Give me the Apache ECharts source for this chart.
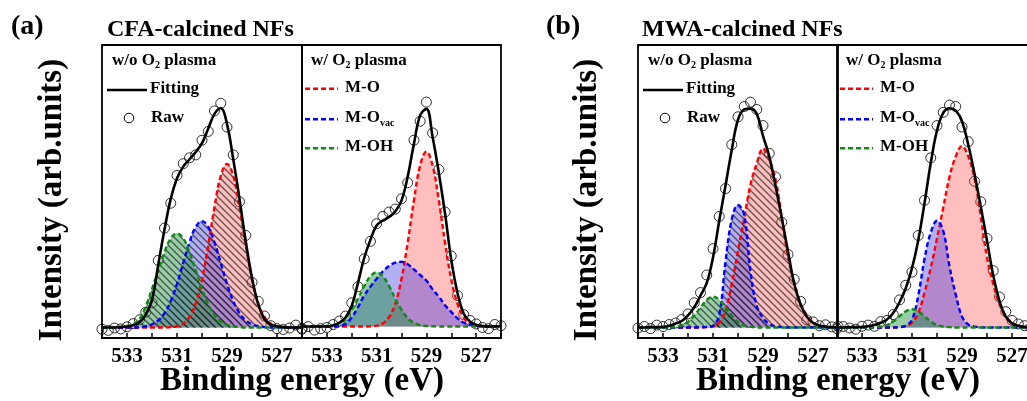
<!DOCTYPE html>
<html>
<head>
<meta charset="utf-8">
<script src="https://cdn.jsdelivr.net/npm/echarts@6/dist/echarts.min.js"></script>
<style>
  html, body { margin: 0; padding: 0; background: #fff; overflow: hidden; }
  #chart { width: 1060px; height: 401px; }
</style>
</head>
<body>
<div id="chart"></div>
<script>
// O 1s spectra: binding energy grid (eV) shared by every curve
const energy = [534, 533.75, 533.5, 533.25, 533, 532.75, 532.5, 532.25, 532, 531.75, 531.5, 531.25,
  531, 530.75, 530.5, 530.25, 530, 529.75, 529.5, 529.25, 529, 528.75, 528.5, 528.25,
  528, 527.75, 527.5, 527.25, 527, 526.75, 526.5, 526.25, 526];
const tickLabels = ['533', '531', '529', '527'];

// CFA-calcined NFs, without O2 plasma
const cfaPlainMO   = [3.6,3.6,3.6,3.6,3.6,3.6,3.6,3.6,3.6,3.6,3.6,3.7,4.0,4.9,7.2,11.9,20.1,31.7,44.7,55.3,59.4,55.3,44.7,31.7,20.1,11.9,7.2,4.9,4.0,3.7,3.6,3.6,3.6];
const cfaPlainOvac = [3.6,3.6,3.6,3.6,3.6,3.6,3.7,4.0,4.7,6.0,8.5,12.6,18.5,25.6,32.7,37.9,39.9,37.9,32.7,25.6,18.5,12.6,8.5,6.0,4.7,4.0,3.7,3.6,3.6,3.6,3.6,3.6,3.6];
const cfaPlainOH   = [3.6,3.6,3.7,3.9,4.1,4.7,6.5,10.8,16.8,23.1,29.3,34.0,35.7,34.0,29.3,23.1,16.8,11.6,7.9,5.7,4.5,4.0,3.7,3.6,3.6,3.6,3.6,3.6,3.6,3.6,3.6,3.6,3.6];
const cfaPlainFit  = [3.6,3.6,3.6,3.7,3.9,4.4,5.4,8.0,13.0,25.0,37.0,47.5,54.5,58.5,61.0,63.5,66.5,71.5,76.5,78.4,73.0,61.0,47.5,33.0,20.5,11.5,6.5,4.6,4.0,3.7,3.6,3.6,3.6];
const cfaPlainRaw  = [3.0,2.6,3.4,3.1,3.8,4.9,6.2,8.8,12.0,26.5,37.5,46.0,55.5,59.5,61.5,62.5,67.5,70.5,77.5,80.1,72.0,62.5,46.5,35.0,19.0,12.5,7.5,4.2,3.2,2.9,3.4,4.4,3.0];

// CFA-calcined NFs, with O2 plasma
const cfaPlasmaMO   = [3.9,3.9,3.9,3.9,3.9,3.9,3.9,3.9,3.9,3.9,3.9,4.0,4.2,5.0,7.1,11.7,20.1,32.6,47.0,58.9,63.6,58.9,47.0,32.6,20.1,11.7,7.1,5.0,4.2,4.0,3.9,3.9,3.9];
const cfaPlasmaOvac = [3.9,3.9,3.9,3.9,3.9,3.9,4.1,4.8,7.0,10.5,14.5,17.5,20.2,22.7,24.6,25.7,26.0,25.2,23.4,21.5,19.6,16.6,14.1,11.2,8.9,6.7,5.2,4.6,4.2,4.0,3.9,3.9,3.9];
const cfaPlasmaOH   = [3.9,3.9,3.9,4.0,4.1,4.4,5.2,6.8,9.6,13.4,17.7,21.1,22.4,21.1,17.7,13.4,9.6,6.8,5.2,4.4,4.1,4.0,3.9,3.9,3.9,3.9,3.9,3.9,3.9,3.9,3.9,3.9,3.9];
const cfaPlasmaFit  = [3.9,3.9,3.9,3.9,3.9,4.3,5.2,7.0,11.0,18.8,27.3,33.5,38.4,40.1,41.3,43.2,46.9,55.1,66.3,76.0,78.2,68.6,56.4,42.5,26.7,15.4,8.3,5.6,4.5,4.1,3.9,4.0,4.1];
const cfaPlasmaRaw  = [3.3,3.9,2.7,3.2,3.6,4.6,5.8,7.5,12.0,17.5,27.0,33.0,39.0,41.5,43.0,44.0,47.5,53.0,67.5,74.0,80.5,70.0,57.5,43.0,28.0,14.5,8.0,6.0,4.8,3.6,3.2,4.6,4.2];

// MWA-calcined NFs, without O2 plasma
const mwaPlainMO   = [3.6,3.6,3.6,3.6,3.6,3.6,3.6,3.6,3.6,3.6,3.6,3.7,4.0,5.2,9.5,18.5,29.9,41.1,52.3,59.6,64.7,60.8,54.1,41.4,27.7,19.2,11.8,7.8,5.2,4.2,3.8,3.6,3.6];
const mwaPlainOvac = [3.6,3.6,3.6,3.6,3.6,3.6,3.6,3.6,3.6,3.6,3.7,3.8,4.2,8.0,26.0,40.5,45.4,42.0,22.5,11.0,6.8,4.8,4.0,3.7,3.6,3.6,3.6,3.6,3.6,3.6,3.6,3.6,3.6];
const mwaPlainOH   = [3.6,3.6,3.6,3.6,3.6,3.6,3.8,4.3,5.5,7.6,10.4,13.0,14.1,13.0,10.4,7.6,5.5,4.3,3.8,3.6,3.6,3.6,3.6,3.6,3.6,3.6,3.6,3.6,3.6,3.6,3.6,3.6,3.6];
const mwaPlainFit  = [3.6,3.6,3.7,3.7,3.8,4.2,4.9,5.8,7.7,10.5,14.5,18.8,27.5,40.0,52.0,64.2,74.5,78.0,78.3,76.5,69.0,62.0,52.0,41.0,29.5,18.5,11.5,7.3,5.2,4.3,3.9,3.7,3.7];
const mwaPlainRaw  = [3.4,3.9,3.2,4.4,3.9,4.6,5.1,6.3,8.2,12.0,15.5,21.5,30.5,41.5,51.0,66.0,75.5,79.0,80.5,78.0,72.5,63.0,55.0,39.5,28.5,20.0,12.5,6.2,5.5,4.2,4.5,3.8,4.0];

// MWA-calcined NFs, with O2 plasma
const mwaPlasmaMO   = [3.6,3.6,3.6,3.6,3.6,3.6,3.6,3.6,3.6,3.6,3.7,4.1,5.2,8.5,15.5,24.0,34.0,44.5,55.0,62.0,65.5,62.0,54.5,41.5,27.5,18.5,11.5,7.5,5.3,4.2,3.8,3.6,3.6];
const mwaPlasmaOvac = [3.6,3.6,3.6,3.6,3.6,3.6,3.6,3.6,3.6,3.6,3.7,4.2,6.2,14.5,27.0,36.0,40.0,36.5,24.5,14.8,7.3,4.6,3.9,3.7,3.6,3.6,3.6,3.6,3.6,3.6,3.6,3.6,3.6];
const mwaPlasmaOH   = [3.6,3.6,3.6,3.6,3.6,3.6,3.7,3.9,4.4,5.6,7.4,9.1,9.8,9.1,7.4,5.6,4.4,3.9,3.7,3.6,3.6,3.6,3.6,3.6,3.6,3.6,3.6,3.6,3.6,3.6,3.6,3.6,3.6];
const mwaPlasmaFit  = [3.6,3.6,3.7,3.7,3.8,4.0,4.4,5.2,6.3,8.5,12.2,17.0,23.8,33.4,46.0,59.7,70.8,76.8,78.4,77.6,74.0,66.0,56.0,44.9,33.2,21.3,12.6,7.3,5.0,4.2,3.8,3.7,3.7];
const mwaPlasmaRaw  = [3.2,3.9,3.4,3.0,4.0,4.4,4.0,5.6,6.0,8.0,13.0,18.0,22.5,35.0,47.0,61.5,72.5,77.0,79.5,79.0,72.0,67.0,53.5,46.5,34.0,23.0,14.0,9.0,6.0,4.8,4.2,3.6,3.9];

// background level under each spectrum (the fitted peaks are shaded down to it)
const baselines = [3.6, 3.9, 3.6, 3.6];

const FONT = '"Liberation Serif", "Times New Roman", serif';
const lineColors = { mo: '#ff0000', ovac: '#0000ff', oh: '#118a11' };
const fillColors = { mo: 'rgba(255,60,60,0.33)', ovac: 'rgba(45,40,225,0.37)', oh: 'rgba(25,145,60,0.45)' };

// subpanel frames (px); the last frame runs past the right edge of the page
const gridLeft = [102, 302, 638, 837];
const gridWidth = [200, 199, 200, 200];
const GRID_TOP = 45, GRID_H = 293;

const panels = [
  { plasma: false, hatched: true,  mo: cfaPlainMO,  ovac: cfaPlainOvac,  oh: cfaPlainOH,  fit: cfaPlainFit,  raw: cfaPlainRaw },
  { plasma: true,  hatched: false, mo: cfaPlasmaMO, ovac: cfaPlasmaOvac, oh: cfaPlasmaOH, fit: cfaPlasmaFit, raw: cfaPlasmaRaw },
  { plasma: false, hatched: true,  mo: mwaPlainMO,  ovac: mwaPlainOvac,  oh: mwaPlainOH,  fit: mwaPlainFit,  raw: mwaPlainRaw },
  { plasma: true,  hatched: false, mo: mwaPlasmaMO, ovac: mwaPlasmaOvac, oh: mwaPlasmaOH, fit: mwaPlasmaFit, raw: mwaPlasmaRaw }
];

// diagonal hatch tile laid over a translucent fill
function hatch(fill) {
  const s = 7;
  const c = document.createElement('canvas');
  c.width = s; c.height = s;
  const g = c.getContext('2d');
  g.fillStyle = fill;
  g.fillRect(0, 0, s, s);
  g.strokeStyle = 'rgba(35,35,35,0.7)';
  g.lineWidth = 1.3;
  for (const k of [-s, 0, s]) {
    g.beginPath();
    g.moveTo(-1, -1 + k);
    g.lineTo(s + 1, s + 1 + k);
    g.stroke();
  }
  return { image: c, repeat: 'repeat' };
}

const grids = [], xAxes = [], yAxes = [], series = [];
panels.forEach((p, g) => {
  grids.push({ left: gridLeft[g], top: GRID_TOP, width: gridWidth[g], height: GRID_H,
    show: true, borderColor: '#000', borderWidth: 1.8, backgroundColor: 'transparent' });
  xAxes.push({
    type: 'value', gridIndex: g, min: 526, max: 534, interval: 1, inverse: true,
    splitLine: { show: false },
    axisLine: { show: true, onZero: false, lineStyle: { color: '#000', width: 1.8 } },
    axisTick: { show: true, inside: true, length: 5, lineStyle: { color: '#000', width: 1.5 } },
    axisLabel: {
      margin: 8, color: '#000', fontFamily: FONT, fontWeight: 'bold', fontSize: 21,
      formatter: v => (tickLabels.includes(String(v)) ? String(v) : '')
    }
  });
  yAxes.push({ type: 'value', gridIndex: g, min: 0, max: 100, show: false });

  const comps = [['M-O', p.mo, 'mo'], ['M-Ovac', p.ovac, 'ovac'], ['M-OH', p.oh, 'oh']];
  comps.forEach(([name, vals, key]) => {
    series.push({
      type: 'line', name, xAxisIndex: g, yAxisIndex: g,
      data: energy.map((e, i) => [e, vals[i]]),
      smooth: 0.4, symbol: 'none', silent: true,
      lineStyle: { color: lineColors[key], width: 2.4, type: [5, 3] },
      areaStyle: { color: p.hatched ? hatch(fillColors[key]) : fillColors[key], opacity: 1, origin: baselines[g] }
    });
  });
  series.push({
    type: 'line', name: 'Fitting', xAxisIndex: g, yAxisIndex: g,
    data: energy.map((e, i) => [e, p.fit[i]]),
    smooth: 0.4, symbol: 'none', silent: true,
    lineStyle: { color: '#000', width: 2.6 }
  });
  series.push({
    type: 'scatter', name: 'Raw', xAxisIndex: g, yAxisIndex: g,
    data: energy.map((e, i) => [e, p.raw[i]]),
    symbol: 'circle', symbolSize: 10, clip: false, silent: true,
    itemStyle: { color: 'rgba(0,0,0,0)', borderColor: '#000', borderWidth: 1 }
  });
});

function txt(x, y, text, size, align, extra) {
  const a = align || 'left';
  return Object.assign({
    type: 'text', x, y, silent: true,
    style: { text, fill: '#000', font: 'bold ' + size + 'px ' + FONT,
      textAlign: a, textVerticalAlign: 'middle', align: a, verticalAlign: 'middle' }
  }, extra || {});
}
function subText(x, y, main, sub, rest) {
  return {
    type: 'text', x, y, silent: true,
    style: {
      text: '{m|' + main + '}{s|' + sub + '}' + (rest ? '{m|' + rest + '}' : ''),
      textAlign: 'left', textVerticalAlign: 'middle', align: 'left', verticalAlign: 'middle',
      rich: {
        m: { fontFamily: FONT, fontWeight: 'bold', fontSize: 17, lineHeight: 20, fill: '#000', color: '#000', verticalAlign: 'middle' },
        s: { fontFamily: FONT, fontWeight: 'bold', fontSize: 10, lineHeight: 10, fill: '#000', color: '#000', verticalAlign: 'bottom' }
      }
    }
  };
}

const graphic = [];
// panel letters, sample titles and axis titles
graphic.push(txt(11, 27, '(a)', 28));
graphic.push(txt(546, 27, '(b)', 28));
graphic.push(txt(107, 30, 'CFA-calcined NFs', 24));
graphic.push(txt(642, 30, 'MWA-calcined NFs', 24));
[[52, 302], [587, 838]].forEach(([yx, cx]) => {
  graphic.push(txt(yx, 200, 'Intensity (arb.units)', 33, 'center', { rotation: Math.PI / 2 }));
  graphic.push(txt(cx, 381, 'Binding energy (eV)', 33, 'center'));
});

// in-panel legends
panels.forEach((p, g) => {
  const gl = gridLeft[g];
  if (!p.plasma) {
    graphic.push(subText(gl + 10, 60.5, 'w/o O', '2', ' plasma'));
    graphic.push({ type: 'line', silent: true, shape: { x1: gl + 5, y1: 90, x2: gl + 45, y2: 90 },
      style: { stroke: '#000', lineWidth: 2.6 } });
    graphic.push(txt(gl + 48, 88.8, 'Fitting', 17));
    graphic.push({ type: 'circle', silent: true, shape: { cx: gl + 27, cy: 118, r: 4.8 },
      style: { fill: 'rgba(0,0,0,0)', stroke: '#000', lineWidth: 1 } });
    graphic.push(txt(gl + 49, 117.8, 'Raw', 17));
  } else {
    graphic.push(subText(gl + 9, 60.5, 'w/ O', '2', ' plasma'));
    const rows = [['mo', 88.7, 'M-O'], ['ovac', 119.3, null], ['oh', 148.3, 'M-OH']];
    rows.forEach(([key, y, label]) => {
      graphic.push({ type: 'line', silent: true, shape: { x1: gl + 3, y1: y, x2: gl + 36, y2: y },
        style: { stroke: lineColors[key], lineWidth: 2.4, lineDash: [5, 3] } });
      if (label) graphic.push(txt(gl + 43, y - 1.2, label, 17));
      else graphic.push(subText(gl + 43, y - 1.2, 'M-O', 'vac'));
    });
  }
});

const chart = echarts.init(document.getElementById('chart'), null, { renderer: 'canvas' });
chart.setOption({
  animation: false,
  backgroundColor: '#fff',
  grid: grids,
  xAxis: xAxes,
  yAxis: yAxes,
  series,
  graphic
});
</script>
</body>
</html>
